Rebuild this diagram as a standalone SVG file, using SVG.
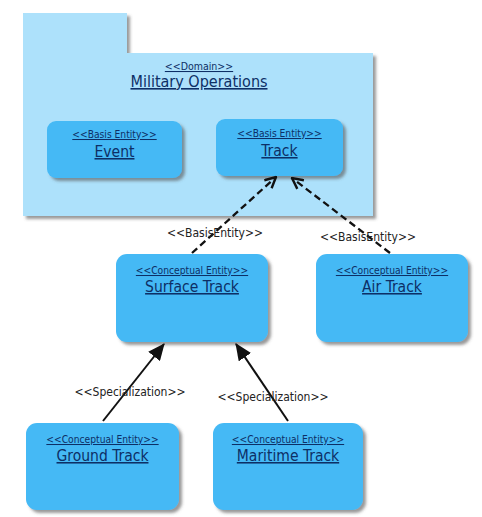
<svg xmlns="http://www.w3.org/2000/svg" width="482" height="517" viewBox="0 0 482 517">
<style>
.pkg{fill:#ade1fb}
.node{fill:#44b9f5}
.st{font-family:"DejaVu Sans Condensed","DejaVu Sans",sans-serif;font-size:10.2px;fill:#0d2f66;text-anchor:middle;text-decoration:underline}
.nm{font-family:"DejaVu Sans Condensed","DejaVu Sans",sans-serif;font-size:15.5px;fill:#0d2f66;text-anchor:middle;text-decoration:underline}
.lbl{font-family:"DejaVu Sans Condensed","DejaVu Sans",sans-serif;font-size:12px;fill:#222;text-anchor:middle}
.dash{stroke:#111;stroke-width:2.3;stroke-dasharray:7,4;fill:none}
.solid{stroke:#111;stroke-width:2;fill:none}
</style>
<defs>
<filter id="sh" x="-10%" y="-10%" width="130%" height="130%">
<feDropShadow dx="3" dy="3" stdDeviation="1.5" flood-color="#555" flood-opacity="0.6"/>
</filter>
<marker id="open" viewBox="0 0 12 12" refX="11" refY="6" markerWidth="13" markerHeight="13" markerUnits="userSpaceOnUse" orient="auto">
<path d="M1,1 L11,6 L1,11" fill="none" stroke="#111" stroke-width="2.2"/>
</marker>
<marker id="fill" viewBox="0 0 16 14" refX="15" refY="7" markerWidth="17" markerHeight="15" markerUnits="userSpaceOnUse" orient="auto">
<path d="M0,0 L16,7 L0,14 Z" fill="#111"/>
</marker>
</defs>
<rect width="482" height="517" fill="#fff"/>
<g id="domain" filter="url(#sh)">
<path class="pkg" d="M23,13 H127 V53 H373 V216 H23 Z"/>
</g>
<g id="domain-text">
<text class="st" x="199" y="70" style="font-size:10.5px">&lt;&lt;Domain&gt;&gt;</text>
<text class="nm" x="199" y="87" style="font-size:16px">Military Operations</text>
</g>
<g id="event">
<rect class="node" x="47" y="121" width="135" height="57" rx="9" filter="url(#sh)"/>
<text class="st" x="114.5" y="138">&lt;&lt;Basis Entity&gt;&gt;</text>
<text class="nm" x="114.5" y="157">Event</text>
</g>
<g id="track">
<rect class="node" x="216" y="119" width="127" height="57" rx="9" filter="url(#sh)"/>
<text class="st" x="279.5" y="137">&lt;&lt;Basis Entity&gt;&gt;</text>
<text class="nm" x="279.5" y="156">Track</text>
</g>
<g id="surface-track">
<rect class="node" x="116" y="254" width="152" height="88" rx="11" filter="url(#sh)"/>
<text class="st" x="192" y="274">&lt;&lt;Conceptual Entity&gt;&gt;</text>
<text class="nm" x="192" y="292">Surface Track</text>
</g>
<g id="air-track">
<rect class="node" x="316" y="254" width="152" height="88" rx="11" filter="url(#sh)"/>
<text class="st" x="392" y="274">&lt;&lt;Conceptual Entity&gt;&gt;</text>
<text class="nm" x="392" y="292">Air Track</text>
</g>
<g id="ground-track">
<rect class="node" x="26" y="423" width="153" height="87" rx="11" filter="url(#sh)"/>
<text class="st" x="102.5" y="443">&lt;&lt;Conceptual Entity&gt;&gt;</text>
<text class="nm" x="102.5" y="461">Ground Track</text>
</g>
<g id="maritime-track">
<rect class="node" x="213" y="423" width="150" height="87" rx="11" filter="url(#sh)"/>
<text class="st" x="288" y="443">&lt;&lt;Conceptual Entity&gt;&gt;</text>
<text class="nm" x="288" y="461">Maritime Track</text>
</g>
<g id="connectors">
<line class="dash" x1="192" y1="253" x2="276" y2="177" marker-end="url(#open)"/>
<line class="dash" x1="390" y1="253" x2="292" y2="178" marker-end="url(#open)"/>
<line class="solid" x1="103" y1="421" x2="164" y2="344" marker-end="url(#fill)"/>
<line class="solid" x1="288" y1="421" x2="236" y2="344" marker-end="url(#fill)"/>
<text class="lbl" x="215" y="237">&lt;&lt;BasisEntity&gt;&gt;</text>
<text class="lbl" x="368" y="241">&lt;&lt;BasisEntity&gt;&gt;</text>
<text class="lbl" x="130" y="396">&lt;&lt;Specialization&gt;&gt;</text>
<text class="lbl" x="273" y="401">&lt;&lt;Specialization&gt;&gt;</text>
</g>
</svg>
